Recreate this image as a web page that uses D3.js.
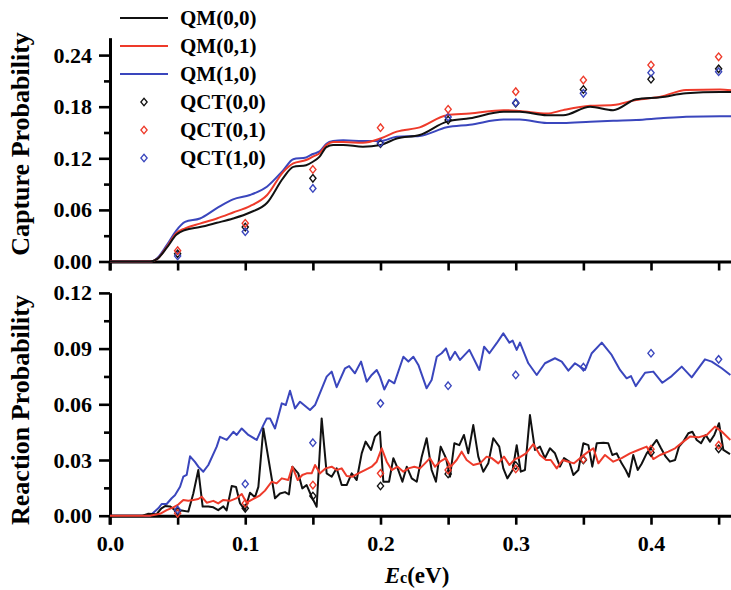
<!DOCTYPE html>
<html>
<head>
<meta charset="utf-8">
<script src="https://cdn.jsdelivr.net/npm/d3@7"></script>
<style>
  html, body { margin: 0; padding: 0; background: #fff; }
  svg text { font-family: "Liberation Serif", "Times New Roman", serif; font-weight: bold; }
</style>
</head>
<body>
<svg id="chart" width="731" height="590"></svg>
<script>
// ---------- Capture probability (upper panel) ----------
const capE = [0, 0.03, 0.035, 0.042, 0.049, 0.0555, 0.0665, 0.079, 0.091, 0.1035, 0.116, 0.128,
  0.1355, 0.145, 0.150, 0.155, 0.160, 0.165, 0.1725, 0.187, 0.200, 0.212, 0.229, 0.249, 0.266,
  0.291, 0.303, 0.323, 0.335, 0.355, 0.372, 0.389, 0.407, 0.426, 0.451, 0.46];
const capQM00 = [0, 0, 0.003, 0.016, 0.031, 0.0366, 0.040, 0.045, 0.050, 0.057, 0.068, 0.097,
  0.110, 0.112, 0.116, 0.122, 0.133, 0.1355, 0.1355, 0.1335, 0.1355, 0.143, 0.147, 0.1626, 0.1665,
  0.174, 0.174, 0.170, 0.170, 0.180, 0.176, 0.1886, 0.191, 0.1956, 0.197, 0.197];
const capQM01 = [0, 0, 0.003, 0.017, 0.033, 0.0386, 0.044, 0.050, 0.057, 0.0645, 0.077, 0.104,
  0.114, 0.118, 0.122, 0.126, 0.1355, 0.139, 0.139, 0.138, 0.143, 0.151, 0.156, 0.170, 0.172,
  0.176, 0.175, 0.172, 0.176, 0.181, 0.182, 0.1878, 0.1916, 0.1994, 0.200, 0.199];
const capQM10 = [0, 0, 0.004, 0.019, 0.036, 0.046, 0.050, 0.062, 0.0723, 0.0773, 0.087, 0.106,
  0.119, 0.121, 0.125, 0.128, 0.137, 0.140, 0.141, 0.140, 0.140, 0.145, 0.146, 0.156, 0.159,
  0.165, 0.165, 0.161, 0.161, 0.1626, 0.1637, 0.1645, 0.1665, 0.1684, 0.169, 0.169];

const qctE = [0.05, 0.10, 0.15, 0.20, 0.25, 0.30, 0.35, 0.40, 0.45];
const capQCT00 = [0.009, 0.040, 0.0967, 0.137, 0.1645, 0.184, 0.200, 0.212, 0.2240];
const capQCT01 = [0.0126, 0.0444, 0.107, 0.1556, 0.177, 0.1975, 0.211, 0.2285, 0.238];
const capQCT10 = [0.0064, 0.0347, 0.085, 0.138, 0.168, 0.1847, 0.1956, 0.2195, 0.2207];

// ---------- Reaction probability (lower panel) ----------
const reaE00 = [0, 0.024, 0.028, 0.0345, 0.038, 0.0407, 0.0444, 0.048, 0.053, 0.0579, 0.0616, 0.0653,
  0.0685, 0.0727, 0.0764, 0.080, 0.0838, 0.0862, 0.090, 0.0932, 0.0961, 0.0998, 0.1035, 0.1072,
  0.1097, 0.1134, 0.122, 0.1257, 0.1294, 0.1323, 0.1348, 0.1392, 0.1422, 0.1454, 0.1491, 0.1528,
  0.1565, 0.1602, 0.1639, 0.1676, 0.1713, 0.175, 0.1787, 0.1824, 0.1861, 0.189, 0.193, 0.1959,
  0.1996, 0.2021, 0.2063, 0.2095, 0.2127, 0.2162, 0.2194, 0.2231, 0.2268, 0.2305, 0.2341, 0.2378,
  0.241, 0.2445, 0.2484, 0.2514, 0.2546, 0.2583, 0.2617, 0.2649, 0.2686, 0.2723, 0.276, 0.2797,
  0.2834, 0.2878, 0.2908, 0.2938, 0.2977, 0.3007, 0.3037, 0.3068, 0.3105, 0.3142, 0.3179, 0.3216,
  0.3253, 0.329, 0.3327, 0.3357, 0.3396, 0.3426, 0.3463, 0.350, 0.3537, 0.3566, 0.3599, 0.3648,
  0.3684, 0.3714, 0.3746, 0.3783, 0.3813, 0.3837, 0.3869, 0.3902, 0.3931, 0.3968, 0.4005, 0.4042,
  0.4074, 0.4109, 0.414, 0.4178, 0.4207, 0.4239, 0.4276, 0.4306, 0.4338, 0.437, 0.4404, 0.4436,
  0.4468, 0.4503, 0.4535, 0.4584];
const reaQM00 = [0, 0, 0.001, 0.0008, 0.004, 0.0052, 0.005, 0.003, 0.0028, 0.0022, 0.012, 0.0246,
  0.0049, 0.005, 0.0045, 0.003, 0.005, 0.0028, 0.016, 0.0155, 0.0067, 0.003, 0.0124, 0.010,
  0.0155, 0.047, 0.0094, 0.012, 0.0127, 0.0115, 0.0264, 0.0228, 0.0147, 0.0165, 0.0102, 0.0048,
  0.0524, 0.0228, 0.021, 0.0255, 0.0165, 0.0165, 0.0228, 0.0192, 0.0336, 0.0399, 0.0354, 0.0426,
  0.0452, 0.0183, 0.0183, 0.031, 0.0255, 0.0183, 0.0264, 0.0201, 0.0183, 0.0318, 0.0417, 0.0246,
  0.0183, 0.0372, 0.031, 0.021, 0.039, 0.038, 0.0435, 0.0336, 0.0488, 0.0318, 0.0237, 0.0282,
  0.0417, 0.0372, 0.0255, 0.0201, 0.0246, 0.038, 0.0237, 0.0246, 0.0542, 0.0354, 0.0372, 0.031,
  0.0363, 0.0336, 0.0264, 0.031, 0.0291, 0.0219, 0.0246, 0.039, 0.038, 0.0264, 0.039, 0.0393,
  0.039, 0.0327, 0.0336, 0.0282, 0.0246, 0.021, 0.0327, 0.0246, 0.028, 0.0336, 0.0372, 0.0408,
  0.0363, 0.0318, 0.0291, 0.030, 0.0372, 0.0399, 0.0444, 0.0452, 0.0408, 0.039, 0.0435, 0.0399,
  0.0435, 0.0498, 0.0354, 0.0332];

const reaE01 = [0, 0.0296, 0.037, 0.0419, 0.0468, 0.0505, 0.0542, 0.0579, 0.0616, 0.0653, 0.0678,
  0.0715, 0.0764, 0.080, 0.0838, 0.0887, 0.0937, 0.0974, 0.101, 0.106, 0.1109, 0.1146, 0.1195,
  0.1232, 0.127, 0.1318, 0.1348, 0.1388, 0.1422, 0.1454, 0.1491, 0.1516, 0.1553, 0.1595, 0.1639,
  0.1676, 0.1713, 0.175, 0.1792, 0.1836, 0.1885, 0.1935, 0.1972, 0.2009, 0.2046, 0.2083, 0.2127,
  0.2169, 0.2206, 0.225, 0.2292, 0.2329, 0.2366, 0.2403, 0.244, 0.2484, 0.2519, 0.2563, 0.260,
  0.2637, 0.2686, 0.2736, 0.2785, 0.2822, 0.2871, 0.2913, 0.2953, 0.2995, 0.3031, 0.3076, 0.313,
  0.3179, 0.3224, 0.3259, 0.3303, 0.3347, 0.3389, 0.3431, 0.3488, 0.3537, 0.3574, 0.3611, 0.366,
  0.3721, 0.3783, 0.3845, 0.3906, 0.3968, 0.4017, 0.4067, 0.4128, 0.4178, 0.4239, 0.4288, 0.435,
  0.4412, 0.4473, 0.4523, 0.4587];
const reaQM01 = [0, 0, 0.001, 0.003, 0.0045, 0.006, 0.0085, 0.008, 0.0085, 0.009, 0.0102,
  0.007, 0.008, 0.0066, 0.0085, 0.008, 0.0095, 0.0117, 0.007, 0.009, 0.011, 0.0135, 0.0183,
  0.0174, 0.0201, 0.0192, 0.0264, 0.0192, 0.0219, 0.0228, 0.0228, 0.0273, 0.0228, 0.0255, 0.0264,
  0.0246, 0.0255, 0.0214, 0.021, 0.0228, 0.0246, 0.0264, 0.0291, 0.0363, 0.0291, 0.0246, 0.0264,
  0.0237, 0.0255, 0.0264, 0.0255, 0.0282, 0.031, 0.0264, 0.0291, 0.031, 0.0264, 0.030, 0.0345,
  0.030, 0.0273, 0.0282, 0.0318, 0.031, 0.0282, 0.0318, 0.0273, 0.0305, 0.0315, 0.0336, 0.0386,
  0.0327, 0.030, 0.030, 0.0255, 0.030, 0.0291, 0.0282, 0.0318, 0.0345, 0.0363, 0.0282, 0.0327,
  0.0291, 0.031, 0.0336, 0.0354, 0.0372, 0.0305, 0.0327, 0.0345, 0.0363, 0.0399, 0.0426, 0.0422,
  0.0435, 0.048, 0.0453, 0.0408];

const reaE10 = [0, 0.0296, 0.0357, 0.0382, 0.0419, 0.0456, 0.048, 0.0518, 0.0542, 0.0567, 0.0592,
  0.0628, 0.0653, 0.069, 0.0727, 0.0789, 0.0813, 0.0863, 0.0912, 0.0937, 0.0974, 0.1023, 0.1085,
  0.1134, 0.1159, 0.1183, 0.122, 0.127, 0.130, 0.1331, 0.1368, 0.1405, 0.1479, 0.1516, 0.1602,
  0.1639, 0.1676, 0.1738, 0.1768, 0.1811, 0.1856, 0.1898, 0.1935, 0.1972, 0.1996, 0.2028, 0.2063,
  0.2102, 0.2169, 0.2206, 0.2243, 0.228, 0.2341, 0.2378, 0.2416, 0.2452, 0.2484, 0.2514, 0.2551,
  0.2588, 0.2657, 0.2731, 0.2766, 0.2805, 0.2859, 0.2908, 0.2953, 0.2977, 0.3007, 0.3031, 0.3093,
  0.3155, 0.3216, 0.329, 0.334, 0.3389, 0.3438, 0.3475, 0.3512, 0.3562, 0.3636, 0.3709, 0.3771,
  0.382, 0.3852, 0.3887, 0.3956, 0.4017, 0.4084, 0.4153, 0.4227, 0.4301, 0.4399, 0.4449, 0.4523,
  0.4587];
const reaQM10 = [0, 0, 0.004, 0.0063, 0.0063, 0.0094, 0.011, 0.0156, 0.021, 0.022, 0.032,
  0.029, 0.0264, 0.0237, 0.0273, 0.0372, 0.0425, 0.0408, 0.0452, 0.0435, 0.047, 0.0435, 0.0408,
  0.0488, 0.0524, 0.0524, 0.047, 0.0605, 0.0596, 0.0673, 0.0578, 0.0614, 0.0569, 0.0596, 0.0749,
  0.0776, 0.0692, 0.0794, 0.0806, 0.0767, 0.083, 0.0722, 0.0758, 0.0785, 0.0749, 0.068, 0.0731,
  0.0713, 0.0856, 0.083, 0.0856, 0.0812, 0.0686, 0.0731, 0.0856, 0.0875, 0.0901, 0.0839, 0.0883,
  0.0839, 0.0893, 0.0785, 0.091, 0.0875, 0.0929, 0.0982, 0.0932, 0.0943, 0.0893, 0.0932, 0.0821,
  0.0758, 0.0821, 0.0848, 0.083, 0.0781, 0.0821, 0.0803, 0.0785, 0.0875, 0.0932, 0.0866, 0.0785,
  0.074, 0.0752, 0.0698, 0.077, 0.0776, 0.0716, 0.0752, 0.0803, 0.0745, 0.0842, 0.083, 0.0794,
  0.0758];

const reaQCT00 = [0.0025, 0.004, 0.0106, 0.016, 0.0225, 0.027, 0.030, 0.034, 0.036];
const reaQCT01 = [0.0013, 0.0067, 0.0165, 0.0228, 0.0246, 0.0252, 0.0304, 0.0358, 0.038];
const reaQCT10 = [0.0031, 0.0171, 0.0393, 0.0605, 0.070, 0.0758, 0.080, 0.0875, 0.0842];

const xTicks = [0, 0.05, 0.1, 0.15, 0.2, 0.25, 0.3, 0.35, 0.4, 0.45];
const xLabelTicks = [0, 0.1, 0.2, 0.3, 0.4];
const capTicks = [0, 0.06, 0.12, 0.18, 0.24];
const capMinor = [0.03, 0.09, 0.15, 0.21];
const reaTicks = [0, 0.03, 0.06, 0.09, 0.12];
const reaMinor = [0.015, 0.045, 0.075, 0.105];

const legendLabels = ["QM(0,0)", "QM(0,1)", "QM(1,0)", "QCT(0,0)", "QCT(0,1)", "QCT(1,0)"];

const BLACK = "#111111", RED = "#ee3a2a", BLUE = "#3a46bd";

// ---------- drawing ----------
const svg = d3.select("#chart");

const x = d3.scaleLinear().domain([0, 0.46]).range([110, 110 + 0.46 * 1352.5]);
const yCap = d3.scaleLinear().domain([0, 0.26]).range([261.5, 261.5 - 0.26 * 860]);
const yRea = d3.scaleLinear().domain([0, 0.12]).range([515.7, 515.7 - 0.12 * 1856.7]);

function styleAxis(g) {
  g.attr("font-family", null).attr("font-size", null);
  g.select(".domain").attr("stroke", "#000").attr("stroke-width", 3);
  g.selectAll(".tick line").attr("stroke", "#000").attr("stroke-width", 2.6);
  g.selectAll(".tick text").attr("fill", "#000")
    .style("font-size", "22px")
    .style("font-family", "'Liberation Serif', 'Times New Roman', serif")
    .style("font-weight", "bold");
}

function drawPanel(yScale, majors, minors, fmt, showXLabels) {
  // x axis
  const xa = svg.append("g").attr("transform", `translate(0,${yScale(0)})`)
    .call(d3.axisBottom(x).tickValues(xTicks).tickSize(9).tickSizeOuter(0)
      .tickFormat(d => (showXLabels && xLabelTicks.some(v => Math.abs(v - d) < 1e-9)) ? d3.format(".1f")(d) : ""))
    .call(styleAxis);
  xa.selectAll(".tick text").attr("dy", "1.05em");
  // y axis, major ticks with labels
  svg.append("g").attr("transform", `translate(${x(0)},0)`)
    .call(d3.axisLeft(yScale).tickValues(majors).tickSize(11).tickSizeOuter(0).tickFormat(fmt).tickPadding(7))
    .call(styleAxis);
  // y axis, minor ticks
  svg.append("g").attr("transform", `translate(${x(0)},0)`)
    .call(d3.axisLeft(yScale).tickValues(minors).tickSize(6).tickSizeOuter(0).tickFormat(""))
    .call(styleAxis);
}

drawPanel(yCap, capTicks, capMinor, d3.format(".2f"), false);
drawPanel(yRea, reaTicks, reaMinor, d3.format(".2f"), true);

// short stub where the two axis lines meet at the origin
[yCap, yRea].forEach(ys => {
  svg.append("line").attr("x1", x(0)).attr("x2", x(0)).attr("y1", ys(0)).attr("y2", ys(0) + 9)
    .attr("stroke", "#000").attr("stroke-width", 3);
});

function drawLine(es, vs, ys, color, curve, width) {
  const pts = es.map((e, i) => [e, vs[i]]);
  svg.append("path").datum(pts)
    .attr("fill", "none").attr("stroke", color).attr("stroke-width", width)
    .attr("stroke-linejoin", "round")
    .attr("d", d3.line().x(d => x(d[0])).y(d => ys(d[1])).curve(curve));
}

const diamond = d3.symbol().type(d3.symbolDiamond2).size(30);
function drawPoints(es, vs, ys, color) {
  svg.append("g").selectAll("path").data(es.map((e, i) => [e, vs[i]])).join("path")
    .attr("d", diamond)
    .attr("transform", d => `translate(${x(d[0])},${ys(d[1])}) scale(0.9,1.1)`)
    .attr("fill", "none").attr("stroke", color).attr("stroke-width", 1.4);
}

// upper panel curves
drawLine(capE, capQM10, yCap, BLUE, d3.curveMonotoneX, 2);
drawLine(capE, capQM01, yCap, RED, d3.curveMonotoneX, 2);
drawLine(capE, capQM00, yCap, BLACK, d3.curveMonotoneX, 2);
drawPoints(qctE, capQCT00, yCap, BLACK);
drawPoints(qctE, capQCT10, yCap, BLUE);
drawPoints(qctE, capQCT01, yCap, RED);

// lower panel curves
drawLine(reaE10, reaQM10, yRea, BLUE, d3.curveLinear, 2);
drawLine(reaE00, reaQM00, yRea, BLACK, d3.curveLinear, 2);
drawLine(reaE01, reaQM01, yRea, RED, d3.curveLinear, 2);
drawPoints(qctE, reaQCT00, yRea, BLACK);
drawPoints(qctE, reaQCT01, yRea, RED);
drawPoints(qctE, reaQCT10, yRea, BLUE);

// legend
const legColors = [BLACK, RED, BLUE, BLACK, RED, BLUE];
const legY = d3.scalePoint().domain(legendLabels).range([18, 158]);
const leg = svg.append("g");
legendLabels.forEach((lab, i) => {
  const yy = legY(lab);
  if (i < 3) {
    leg.append("line").attr("x1", 120).attr("x2", 168).attr("y1", yy).attr("y2", yy)
      .attr("stroke", legColors[i]).attr("stroke-width", 2);
  } else {
    leg.append("path").attr("d", diamond).attr("transform", `translate(144,${yy}) scale(0.9,1.1)`)
      .attr("fill", "none").attr("stroke", legColors[i]).attr("stroke-width", 1.4);
  }
  leg.append("text").attr("x", 180).attr("y", yy).attr("dy", "0.35em")
    .attr("font-size", 21).attr("fill", "#000").text(lab);
});

// axis titles
svg.append("text").attr("transform", "translate(29,144) rotate(-90)")
  .attr("text-anchor", "middle").attr("font-size", 26).text("Capture Probability");
svg.append("text").attr("transform", "translate(29,410) rotate(-90)")
  .attr("text-anchor", "middle").attr("font-size", 26).text("Reaction Probability");

const xt = svg.append("text").attr("x", 417).attr("y", 583).attr("text-anchor", "middle").attr("font-size", 23);
xt.append("tspan").style("font-style", "italic").text("E");
xt.append("tspan").attr("font-size", 16).text("c");
xt.append("tspan").text("(eV)");
</script>
</body>
</html>
